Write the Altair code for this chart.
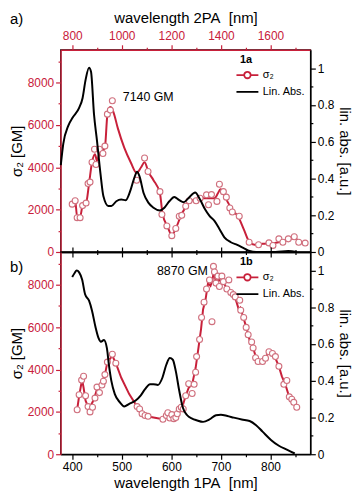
import altair as alt
import pandas as pd

# ---------------- data (1PA wavelength in nm) ----------------
# panel a (1a)
a_pts_wl = [400, 406, 410, 416, 421, 428, 432, 436, 440, 445, 448, 455, 462, 466, 471, 477, 481, 530, 546, 553,
            577, 581, 591, 601, 609, 616, 621, 629, 636, 650, 658, 671, 675, 681, 692, 697, 705, 711, 718, 723,
            737, 757, 776, 797, 805, 817, 825, 836, 848, 857, 870]
a_pts_s2 = [2260, 2420, 1620, 1620, 2190, 2310, 3230, 3300, 4240, 4850, 4130, 4850, 4650, 5000, 6510, 6700, 7140, 3390, 4440, 3800,
            2850, 1770, 1230, 770, 1110, 1690, 1730, 2160, 2420, 2420, 2540, 2700, 2230, 2710, 2390, 3200, 2850, 2590, 2080, 1890,
            1690, 460, 340, 430, 310, 620, 460, 620, 720, 460, 420]
a_fit_wl = [401, 406, 410, 416, 421, 428, 434, 440, 446, 450, 455, 462, 466, 471, 477, 483, 492, 505, 518, 530,
            539, 546, 554, 564, 577, 582, 593, 601, 609, 619, 629, 638, 648, 658, 668, 677, 687, 694, 699, 707,
            713, 723, 736, 746, 757, 768, 784, 804, 823, 836, 849, 862, 872]
a_fit_s2 = [2310, 2420, 1660, 1660, 2190, 2310, 3230, 4240, 4620, 4310, 4650, 4770, 4930, 6470, 6850, 6620, 5850, 4930, 4240, 3730,
            4000, 4240, 3770, 3390, 2770, 1850, 1160, 800, 1110, 1690, 2130, 2430, 2460, 2540, 2540, 2540, 2540, 2770, 2960, 2700,
            2390, 2000, 1620, 1080, 490, 340, 390, 420, 490, 620, 650, 430, 390]
a_abs_wl = [377, 382, 392, 401, 414, 421, 427, 434, 438, 444, 450, 457, 463, 473, 479, 489, 499, 508, 518, 525,
            531, 536, 544, 554, 564, 577, 586, 596, 606, 616, 625, 635, 648, 658, 668, 677, 687, 697, 707, 720,
            733, 746, 758, 771, 810, 836, 853]
a_abs = [0.472, 0.588, 0.686, 0.731, 0.784, 0.838, 0.936, 1.002, 0.980, 0.749, 0.606, 0.428, 0.303, 0.250, 0.250, 0.276,
         0.285, 0.282, 0.339, 0.401, 0.437, 0.410, 0.321, 0.267, 0.241, 0.226, 0.241, 0.276, 0.299, 0.282, 0.271, 0.294,
         0.324, 0.285, 0.232, 0.196, 0.169, 0.125, 0.080, 0.053, 0.039, 0.021, 0.005, 0.0, 0.0, 0.005, 0.0]
a_note = ["7140 GM", 502, 7300]

# panel b (1b)
b_pts_wl = [410, 414, 419, 423, 427, 432, 436, 441, 446, 450, 455, 460, 463, 466, 471, 481, 488, 531, 536, 541,
            547, 553, 583, 590, 593, 597, 601, 605, 609, 612, 616, 620, 624, 629, 635, 642, 646, 649, 651, 657,
            661, 666, 671, 677, 682, 685, 687, 690, 694, 697, 702, 705, 712, 716, 720, 725, 729, 738, 740, 746,
            751, 755, 762, 765, 770, 775, 784, 790, 797, 804, 810, 817, 827, 833, 838, 843, 847, 853]
b_pts_s2 = [2100, 2810, 3500, 3680, 2760, 2250, 2000, 2220, 2650, 3170, 2910, 3270, 3450, 3760, 4350, 4720, 4300, 2250, 2140, 1910,
            1830, 1790, 1650, 1830, 1960, 1710, 1870, 1680, 1730, 1910, 2140, 2220, 2140, 2760, 3330, 2870, 3300, 3870, 4610, 5420,
            6460, 7180, 7800, 8230, 6260, 8870, 8610, 8080, 8410, 7920, 8410, 8150, 7800, 8230, 7640, 7540, 7430, 7270, 6800, 6460,
            5990, 5640, 5300, 5020, 4560, 4380, 4380, 4530, 4840, 4760, 4610, 4150, 3300, 3480, 2710, 2600, 2450, 2220]
b_fit_wl = [410, 414, 420, 423, 427, 432, 436, 441, 446, 450, 455, 460, 466, 471, 477, 481, 488, 499, 515, 531,
            541, 551, 564, 583, 593, 603, 612, 622, 629, 635, 642, 649, 655, 660, 664, 669, 674, 679, 683, 686,
            689, 692, 696, 700, 705, 712, 720, 729, 736, 739, 746, 752, 758, 765, 771, 778, 784, 791, 797, 804,
            810, 817, 823, 830, 836, 843, 853]
b_fit_s2 = [2100, 2760, 3530, 3140, 2530, 2250, 2250, 2450, 2760, 3070, 3220, 3380, 3760, 4350, 4530, 4650, 4300, 3610, 2840, 2250,
            1940, 1790, 1730, 1650, 1830, 1760, 1990, 2220, 2760, 3140, 3300, 4070, 5070, 5920, 6840, 7300, 8080, 7950, 8230, 8690,
            8230, 8380, 8200, 8380, 8150, 7800, 7640, 7380, 6840, 6920, 6410, 5920, 5380, 5020, 4560, 4410, 4380, 4610, 4810, 4720,
            4530, 4150, 3680, 3300, 2840, 2600, 2250]
b_abs_wl = [400, 405, 409, 414, 420, 426, 434, 440, 447, 453, 458, 464, 470, 474, 479, 486, 496, 505, 515, 528,
            538, 547, 557, 564, 573, 582, 590, 597, 603, 609, 616, 623, 632, 642, 651, 664, 677, 690, 700, 713,
            726, 742, 758, 771, 784, 801, 817, 833, 849]
b_abs = [0.964, 0.986, 1.0, 0.989, 0.950, 0.870, 0.835, 0.781, 0.692, 0.633, 0.612, 0.621, 0.577, 0.488, 0.399, 0.327,
         0.283, 0.260, 0.274, 0.292, 0.319, 0.354, 0.381, 0.381, 0.377, 0.416, 0.488, 0.523, 0.514, 0.452, 0.345, 0.256,
         0.212, 0.194, 0.185, 0.176, 0.189, 0.212, 0.215, 0.208, 0.199, 0.189, 0.181, 0.158, 0.123, 0.078, 0.046, 0.025, 0.004]
b_note = ["8870 GM", 571, 8650]

LEGEND_LABELS = ["σ₂", "Lin. Abs."]
X_TICKS = [400, 450, 500, 550, 600, 650, 700, 750, 800, 850]
Y1_TICKS = [0, 1000, 2000, 3000, 4000, 5000, 6000, 7000, 8000, 9000]
Y2_TICKS = [0, 0.1, 0.2, 0.3, 0.4, 0.5, 0.6, 0.7, 0.8, 0.9, 1.0]

# ---------------- style ----------------
RED = "#C8203A"
PT_STROKE = "#D0707E"
FONT = "Liberation Sans"
X_DOMAIN = [376.5, 880.5]
Y1_DOMAIN = [0, 9550]
Y2_DOMAIN = [0, 1.1]
SYMBOLS = ["M-1.7,0L-0.5,0M0.5,0L1.7,0M0.5,0A0.5,0.5,0,1,1,-0.5,0A0.5,0.5,0,1,1,0.5,0",
           "M-1.7,0L1.7,0"]
W, H = 252, 204

XM = "datum.value % 100 === 0"
Y1M = "datum.value % 2000 === 0"
Y2M = "abs(datum.value * 5 - round(datum.value * 5)) < 0.001"


def tsize(test):
    return {"condition": {"test": test, "value": 5}, "value": 2.5}


def panel(pts_wl, pts_s2, fit_wl, fit_s2, abs_wl, abs_v, note, legend_title, letter, top, letter_y):
    pts = pd.DataFrame({"wl": pts_wl, "v": pts_s2})
    fit = pd.DataFrame({"wl": fit_wl, "v": fit_s2})
    ab = pd.DataFrame({"wl": abs_wl, "v": abs_v})
    nt = pd.DataFrame({"wl": [note[1]], "v": [note[2]], "t": [note[0]]})
    lab = pd.DataFrame({"t": [letter]})
    leg = pd.DataFrame({"s": LEGEND_LABELS})

    xs = alt.Scale(domain=X_DOMAIN, nice=False, zero=False)
    if top:
        ax_top = alt.Axis(orient="top", values=X_TICKS, title="wavelength 2PA\u00a0 [nm]",
                          labelExpr=f"{XM} ? format(2*datum.value, 'd') : ''",
                          labelColor=RED, domainColor=RED, tickColor=RED, tickSize=tsize(XM),
                          titleColor="black", titlePadding=4, labelPadding=2, labelFlush=False,
                          labelOverlap=False)
        ax_bot = alt.Axis(orient="bottom", values=X_TICKS, labels=False, title=None,
                          domainColor="black", tickColor="black", tickSize=tsize(XM))
    else:
        ax_top = alt.Axis(orient="top", values=X_TICKS, labels=False, title=None,
                          domainColor="black", tickColor="black", tickSize=tsize(XM))
        ax_bot = alt.Axis(orient="bottom", values=X_TICKS, title="wavelength 1PA\u00a0 [nm]",
                          labelExpr=f"{XM} ? format(datum.value, 'd') : ''",
                          domainColor="black", tickColor="black", tickSize=tsize(XM),
                          titlePadding=4, labelPadding=2, labelFlush=False, labelOverlap=False)

    ay_left = alt.Axis(orient="left", values=Y1_TICKS, title="σ₂ [GM]",
                       labelExpr=f"{Y1M} ? format(datum.value, 'd') : ''",
                       labelColor=RED, domainColor=RED, tickColor=RED, tickSize=tsize(Y1M),
                       titleColor="black", titlePadding=3, labelPadding=2, labelOverlap=False,
                       labelFlush=False)
    ay_right = alt.Axis(orient="right", values=Y2_TICKS, title="lin. abs. [a.u.]",
                        labelExpr=f"{Y2M} ? format(datum.value, '~g') : ''",
                        domainColor="black", tickColor="black", tickSize=tsize(Y2M),
                        titlePadding=3, labelPadding=2, labelOverlap=False, labelFlush=False)

    X_red = alt.X("wl:Q", scale=xs, axis=ax_top)
    Y_red = alt.Y("v:Q", scale=alt.Scale(domain=Y1_DOMAIN, nice=False, zero=False), axis=ay_left)
    X_blk = alt.X("wl:Q", scale=xs, axis=ax_bot)
    Y_blk = alt.Y("v:Q", scale=alt.Scale(domain=Y2_DOMAIN, nice=False, zero=False), axis=ay_right)

    fit_line = alt.Chart(fit).mark_line(color=RED, strokeWidth=2,
                                        interpolate="monotone" if top else "linear").encode(x=X_red, y=Y_red)
    pts_layer = alt.Chart(pts).mark_point(shape="circle", size=36, filled=True, fill="white",
                                          stroke=PT_STROKE, strokeWidth=1.1, opacity=1).encode(x=X_red, y=Y_red)
    note_layer = alt.Chart(nt).mark_text(align="left", baseline="middle", fontSize=12.5, font=FONT,
                                         color="black").encode(x=X_red, y=Y_red, text="t:N")
    letter_layer = alt.Chart(lab).mark_text(align="left", baseline="middle", fontSize=15, font=FONT,
                                            color="black").encode(x=alt.value(-51), y=alt.value(letter_y),
                                                                  text="t:N")
    red = alt.layer(fit_line, pts_layer, note_layer, letter_layer)

    leg_def = alt.Legend(title=legend_title, orient="none", legendX=181, legendY=4,
                         titleFontWeight="bold", titleFontSize=11, titleFont=FONT, titleColor="black",
                         labelFont=FONT, labelFontSize=11, labelColor="black",
                         symbolSize=169, symbolStrokeWidth=1.8, symbolOpacity=1,
                         symbolFillColor="white", labelOffset=8, rowPadding=2, titlePadding=3, padding=0)
    abs_line = alt.Chart(ab).mark_line(color="black", strokeWidth=2, interpolate="monotone").encode(
        x=X_blk, y=Y_blk)
    legend_layer = alt.Chart(leg).mark_point(filled=False, opacity=0).encode(
        x=alt.value(0), y=alt.value(0),
        color=alt.Color("s:N", scale=alt.Scale(domain=LEGEND_LABELS, range=[RED, "black"]), legend=leg_def),
        shape=alt.Shape("s:N", scale=alt.Scale(domain=LEGEND_LABELS, range=SYMBOLS), legend=leg_def),
    )
    blk = alt.layer(abs_line, legend_layer)

    return alt.layer(red, blk).resolve_scale(x="independent", y="independent").properties(width=W, height=H)


top_panel = panel(a_pts_wl, a_pts_s2, a_fit_wl, a_fit_s2, a_abs_wl, a_abs, a_note, "1a", "a)", True, -31)
bot_panel = panel(b_pts_wl, b_pts_s2, b_fit_wl, b_fit_s2, b_abs_wl, b_abs, b_note, "1b", "b)", False, 15)

chart = alt.vconcat(top_panel, bot_panel, spacing=0, bounds="flush").resolve_scale(
    color="independent", shape="independent"
).resolve_legend(color="independent", shape="independent").configure_view(
    stroke="black", strokeWidth=1.3
).configure_axis(
    labelFont=FONT, titleFont=FONT, labelFontSize=12, titleFontSize=15, titleFontWeight="normal",
    domainWidth=1.4, tickWidth=1.2, grid=False
).properties(padding=0)

chart.save("out.html", embed_options={"renderer": "svg", "actions": False})
